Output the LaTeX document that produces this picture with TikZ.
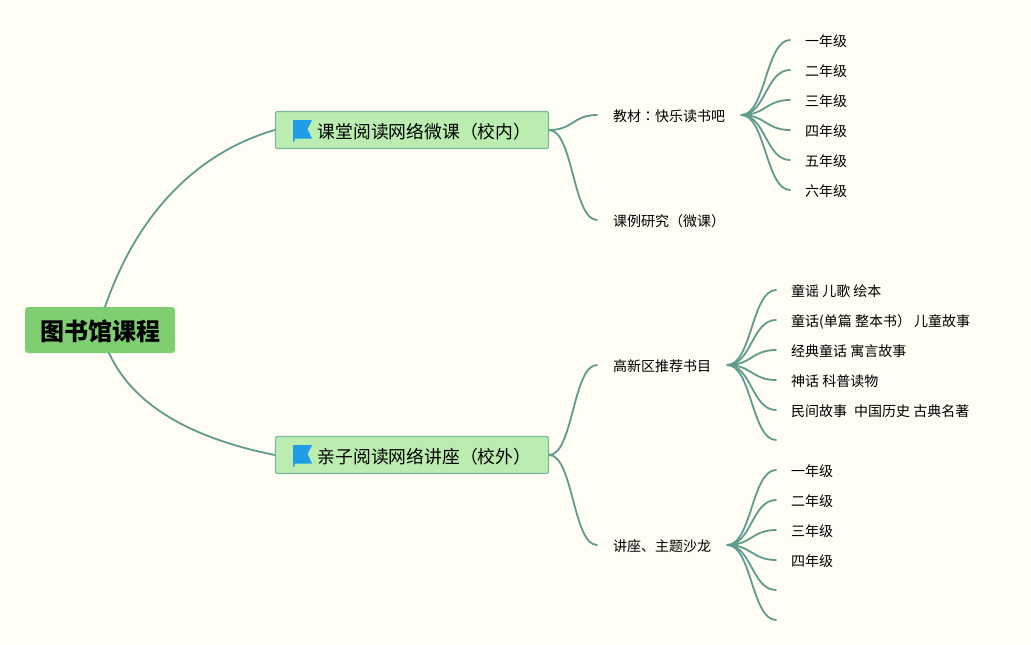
\documentclass[tikz,border=0pt]{standalone}
\usepackage{fontspec}
\usetikzlibrary{calc}
\setmainfont{Noto Sans CJK SC}
\newfontfamily\tcfont{Noto Sans CJK TC}
\definecolor{bgc}{HTML}{FFFDF4}
\definecolor{rootc}{HTML}{80CE72}
\definecolor{topicc}{HTML}{BBEDB1}
\definecolor{topicb}{HTML}{7DB79C}
\definecolor{linec}{HTML}{5F9C8D}
\definecolor{flagc}{HTML}{1E9CE6}
\tikzset{
  x=1pt,y=-1pt,
  rootnode/.style={fill=rootc,rounded corners=3pt,minimum width=150pt,minimum height=46pt,inner sep=0pt,text height=22pt,text depth=1.8pt,font=\fontsize{24}{24}\selectfont\bfseries},
  topicnode/.style={fill=topicc,draw=topicb,line width=1.2pt,rounded corners=1.5pt,minimum width=273pt,minimum height=37pt,inner sep=0pt,text height=18pt,text depth=1.5pt,font=\fontsize{17.8}{20}\selectfont},
  branchnode/.style={anchor=west,inner xsep=16pt,inner ysep=2pt,text height=14pt,text depth=1.4pt,font=\fontsize{14}{16}\selectfont},
  leafnode/.style={anchor=west,inner xsep=15pt,inner ysep=2pt,text height=14pt,text depth=1.4pt,font=\fontsize{14}{16}\selectfont},
  conn/.style={draw=linec,line width=1.8pt,line cap=round},
}
\newcommand{\flagicon}[2]{%
  \fill[flagc] (#1,#2) -- ++(19,0) -- ++(-4.5,9) -- ++(4.5,9.5) -- ++(-17.5,0) -- ++(0,3) -- ++(-1.5,0) -- cycle;}
\begin{document}
\begin{tikzpicture}
\useasboundingbox (0,0) rectangle (1031,645);
\fill[bgc] (0,0) rectangle (1031,645);
\node[rootnode] (root) at (100,330) {图书馆课程};
\node[topicnode] (t1) at (412,130) {\hspace{25pt}课堂阅读网络微课（校内）};
\node[topicnode] (t2) at (412,455) {\hspace{25pt}亲子阅读网络讲座（校外）};
\flagicon{293}{120}
\flagicon{293}{445}
\node[branchnode] (b1) at (597,115) {教材{\tcfont ：}快乐读书吧};
\node[branchnode] (b2) at (597,220) {课例研究（微课）};
\node[branchnode] (b3) at (597,365) {高新区推荐书目};
\node[branchnode] (b4) at (597,545) {讲座、主题沙龙};
\foreach \n/\y/\s in {a1/40/一年级,a2/70/二年级,a3/100/三年级,a4/130/四年级,a5/160/五年级,a6/190/六年级}
  \node[leafnode] (\n) at (790,\y) {\s};
\foreach \n/\y/\s in {c1/290/童谣 儿歌 绘本,c2/320/童话(单篇 整本书）\hspace{3pt}儿童故事,c3/350/经典童话 寓言故事,c4/380/神话 科普读物,c5/410/民间故事\hspace{7pt}中国历史 古典名著}
  \node[leafnode] (\n) at (776,\y) {\s};
\foreach \n/\y/\s in {d1/470/一年级,d2/500/二年级,d3/530/三年级,d4/560/四年级}
  \node[leafnode] (\n) at (776,\y) {\s};
\coordinate (c6) at (776,440);
\coordinate (d5) at (776,590);
\coordinate (d6) at (776,620);
\coordinate (r1) at (105,307);
\coordinate (r2) at (109,353);
\draw[conn] (r1) .. controls (140,205) and (205,150) .. (t1.west);
\draw[conn] (r2) .. controls (135,410) and (200,440) .. (t2.west);
\foreach \s/\e in {t1/b1,t1/b2,t2/b3,t2/b4,b1/a1,b1/a2,b1/a3,b1/a4,b1/a5,b1/a6,b3/c1,b3/c2,b3/c3,b3/c4,b3/c5,b3/c6,b4/d1,b4/d2,b4/d3,b4/d4,b4/d5,b4/d6}
  \draw[conn] (\s.east) .. controls ($(\s.east)+(24,0)$) and ($(\e.west)+(-24,0)$) .. (\e.west);
\end{tikzpicture}
\end{document}
